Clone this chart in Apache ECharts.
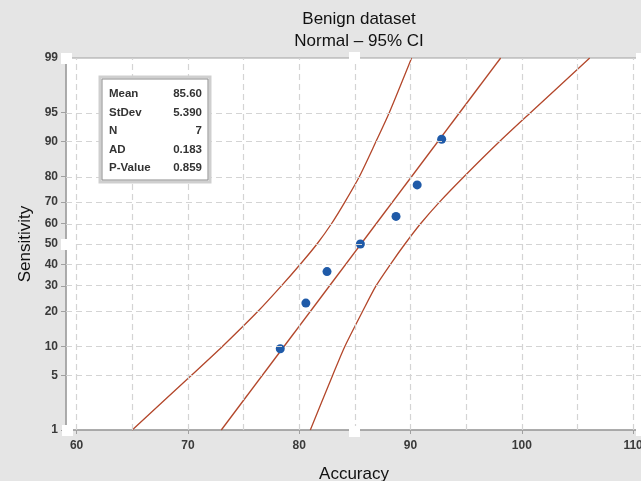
<!DOCTYPE html>
<html>
<head>
<meta charset="utf-8">
<script src="https://cdn.jsdelivr.net/npm/echarts@6/dist/echarts.min.js"></script>
<style>
html,body{margin:0;padding:0;background:#e5e5e5;}
#chart{width:641px;height:481px;}
</style>
</head>
<body>
<div id="chart"></div>
<script>
var xTicks = [60, 70, 80, 90, 100, 110];
var xGrid = [60, 65, 70, 75, 80, 85, 90, 95, 100, 105, 110];
var yTicks = [1, 5, 10, 20, 30, 40, 50, 60, 70, 80, 90, 95, 99];
var yGrid = [5, 10, 20, 30, 40, 50, 60, 70, 80, 90, 95];

// observed points (accuracy vs percent)
var accuracy = [78.3, 80.6, 82.5, 85.5, 88.7, 90.6, 92.8];
var sensitivity = [9.5, 23.0, 36.5, 50.0, 63.5, 77.0, 90.5];

var fitPct = [1, 99];
var fitX = [73.0, 98.1];
var bandPct = [1, 5, 10, 20, 30, 40, 50, 60, 70, 80, 90, 95, 99];
var lowerX = [65.0, 70.3, 73.1, 76.3, 78.4, 80.1, 81.6, 82.9, 84.1, 85.4, 86.9, 88.1, 90.1];
var upperX = [81.0, 83.0, 84.1, 85.7, 86.9, 88.2, 89.5, 90.9, 92.6, 94.8, 98.0, 100.8, 106.1];

var statNames = ['Mean', 'StDev', 'N', 'AD', 'P-Value'];
var statValues = ['85.60', '5.390', '7', '0.183', '0.859'];

// inverse normal cdf (Acklam) -> probability scale
function probit(p) {
  var a = [-3.969683028665376e+01, 2.209460984245205e+02, -2.759285104469687e+02, 1.383577518672690e+02, -3.066479806614716e+01, 2.506628277459239e+00];
  var b = [-5.447609879822406e+01, 1.615858368580409e+02, -1.556989798598866e+02, 6.680131188771972e+01, -1.328068155288572e+01];
  var c = [-7.784894002430293e-03, -3.223964580411365e-01, -2.400758277161838e+00, -2.549732539343734e+00, 4.374664141464968e+00, 2.938163982698783e+00];
  var d = [7.784695709041462e-03, 3.224671290700398e-01, 2.445134137142996e+00, 3.754408661907416e+00];
  var pl = 0.02425, q, r;
  if (p < pl) {
    q = Math.sqrt(-2 * Math.log(p));
    return (((((c[0]*q+c[1])*q+c[2])*q+c[3])*q+c[4])*q+c[5]) / ((((d[0]*q+d[1])*q+d[2])*q+d[3])*q+1);
  }
  if (p > 1 - pl) {
    q = Math.sqrt(-2 * Math.log(1 - p));
    return -(((((c[0]*q+c[1])*q+c[2])*q+c[3])*q+c[4])*q+c[5]) / ((((d[0]*q+d[1])*q+d[2])*q+d[3])*q+1);
  }
  q = p - 0.5; r = q * q;
  return (((((a[0]*r+a[1])*r+a[2])*r+a[3])*r+a[4])*r+a[5])*q / (((((b[0]*r+b[1])*r+b[2])*r+b[3])*r+b[4])*r+1);
}
function z(pct) { return probit(pct / 100); }
function pairs(xs, ps) {
  var out = [];
  for (var i = 0; i < xs.length; i++) out.push([xs[i], z(ps[i])]);
  return out;
}

var yTickZ = yTicks.map(z);
var lineColor = '#b3472b';
var labelFont = { fontFamily: 'Liberation Sans', fontSize: 12, fontWeight: 'bold', color: '#3a3a3a' };

var gridMarks = xGrid.map(function (v) { return { xAxis: v }; })
  .concat(yGrid.map(function (p) { return { yAxis: z(p) }; }));

var statGraphics = [
  { type: 'rect', shape: { x: 100, y: 77, width: 110, height: 105 }, style: { fill: '#fff', stroke: '#cfcfcf', lineWidth: 3 }, z: 100 },
  { type: 'rect', shape: { x: 102, y: 79, width: 106, height: 101 }, style: { fill: 'none', stroke: '#8c8c8c', lineWidth: 1 }, z: 101 }
];
for (var i = 0; i < statNames.length; i++) {
  statGraphics.push({ type: 'text', x: 109, y: 94 + i * 18.5, z: 102,
    style: { text: statNames[i], fill: '#333', font: 'bold 11.5px "Liberation Sans"', verticalAlign: 'middle', align: 'left' } });
  statGraphics.push({ type: 'text', x: 202, y: 94 + i * 18.5, z: 102,
    style: { text: statValues[i], fill: '#333', font: 'bold 11.5px "Liberation Sans"', verticalAlign: 'middle', align: 'right' } });
}
// white selection handles of the Minitab graph region
[[66, 58], [354, 57], [641, 58], [66, 244], [641, 244], [67, 430], [354, 431], [641, 430]].forEach(function (h) {
  statGraphics.push({ type: 'rect', shape: { x: h[0] - 5, y: h[1] - 5, width: 11, height: 11 }, style: { fill: '#fff' }, z: 110 });
});

var chart = echarts.init(document.getElementById('chart'));
var option = {
  backgroundColor: '#e5e5e5',
  animation: false,
  title: {
    text: 'Benign dataset\nNormal – 95% CI',
    left: 354, top: 3, textAlign: 'center',
    textStyle: { fontFamily: 'Liberation Sans', fontSize: 17, fontWeight: 'normal', color: '#111', lineHeight: 22 }
  },
  grid: { left: 66, top: 58, width: 576, height: 372, show: true, backgroundColor: '#fff', borderColor: '#a0a0a0', borderWidth: 1,
    containLabel: false, outerBoundsMode: 'none' },
  xAxis: {
    type: 'value', min: 59.05, max: 110.8,
    name: 'Accuracy', nameLocation: 'middle', nameGap: 36,
    nameTextStyle: { fontFamily: 'Liberation Sans', fontSize: 17, color: '#111' },
    axisLine: { onZero: false, lineStyle: { color: '#a0a0a0', width: 1.5 } },
    axisTick: { customValues: xTicks, length: 4, lineStyle: { color: '#a0a0a0' } },
    axisLabel: Object.assign({ customValues: xTicks, margin: 10 }, labelFont),
    splitLine: { show: false }
  },
  yAxis: {
    type: 'value', min: z(1), max: z(99),
    name: 'Sensitivity', nameLocation: 'middle', nameGap: 31,
    nameTextStyle: { fontFamily: 'Liberation Sans', fontSize: 17, color: '#111' },
    axisLine: { show: true, onZero: false, lineStyle: { color: '#a0a0a0', width: 1.5 } },
    axisTick: { show: true, customValues: yTickZ, length: 5, lineStyle: { color: '#a0a0a0' } },
    axisLabel: Object.assign({
      customValues: yTickZ, margin: 8,
      formatter: function (v) {
        var best = 0;
        for (var k = 0; k < yTickZ.length; k++) if (Math.abs(yTickZ[k] - v) < Math.abs(yTickZ[best] - v)) best = k;
        return String(yTicks[best]);
      }
    }, labelFont),
    splitLine: { show: false }
  },
  graphic: statGraphics,
  series: [
    {
      type: 'line', data: [], z: 1, silent: true,
      markLine: { silent: true, symbol: 'none', label: { show: false },
        lineStyle: { color: '#d4d4d4', type: [6, 4], width: 1.2 }, data: gridMarks }
    },
    { name: 'lower', type: 'line', data: pairs(lowerX, bandPct), smooth: 0.25, showSymbol: false, z: 3,
      lineStyle: { color: lineColor, width: 1.3 } },
    { name: 'upper', type: 'line', data: pairs(upperX, bandPct), smooth: 0.25, showSymbol: false, z: 3,
      lineStyle: { color: lineColor, width: 1.3 } },
    { name: 'fit', type: 'line', data: pairs(fitX, fitPct), showSymbol: false, z: 3,
      lineStyle: { color: lineColor, width: 1.3 } },
    { name: 'data', type: 'scatter', data: pairs(accuracy, sensitivity), symbolSize: 9, z: 4,
      itemStyle: { color: '#1f5aa8', opacity: 1 } }
  ]
};
chart.setOption(option);
</script>
</body>
</html>
